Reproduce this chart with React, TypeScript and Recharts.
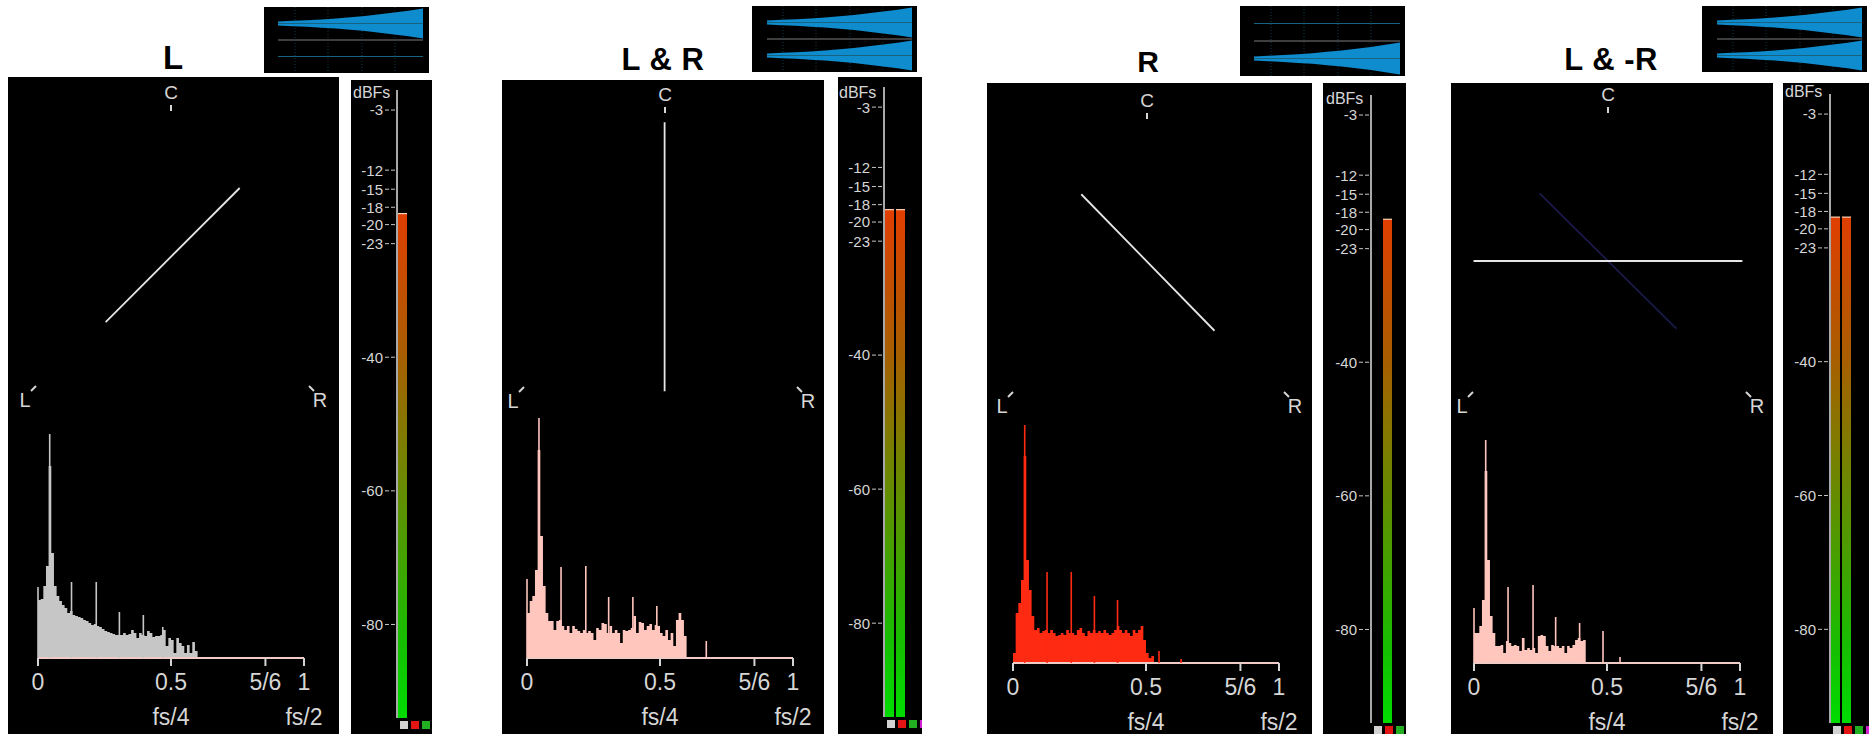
import React from "react";
import {
  ComposedChart,
  AreaChart,
  BarChart,
  Area,
  Bar,
  Line,
  Scatter,
  XAxis,
  YAxis,
  CartesianGrid,
  ReferenceLine,
} from "recharts";

const FONT = '"Liberation Sans", Arial, Helvetica, sans-serif';
const LABEL = "#d6d6d6";

// spectrum level above floor, one value per 0.01 of fs/2 starting at 0
const spectrumL = [58, 59, 72, 92, 192, 105, 72, 62, 57, 53, 50, 45, 47, 43, 42, 41, 40, 38, 37, 35, 33, 34, 32, 31, 29, 27, 26, 25, 24, 23, 23, 23, 25, 23, 24, 28, 25, 20, 25, 23, 22, 27, 25, 21, 22, 22, 23, 28, 12, 20, 18, 5, 20, 15, 12, 5, 13, 5, 16, 7, 0];
const spectrumLR = [45, 57, 62, 88, 208, 122, 72, 45, 37, 37, 28, 37, 38, 32, 28, 32, 25, 32, 29, 27, 25, 28, 25, 27, 25, 18, 30, 28, 35, 34, 25, 32, 25, 28, 25, 15, 28, 27, 28, 30, 42, 25, 36, 35, 28, 32, 34, 28, 33, 32, 25, 22, 28, 18, 25, 12, 38, 45, 38, 22, 0];
const spectrumR = [10, 50, 60, 83, 207, 103, 73, 47, 33, 35, 30, 32, 33, 30, 33, 30, 27, 28, 30, 28, 33, 30, 30, 28, 33, 35, 30, 27, 32, 30, 33, 30, 32, 30, 33, 30, 28, 30, 33, 37, 33, 30, 33, 30, 27, 33, 30, 33, 37, 23, 10, 5, 7, 0];
const spectrumLmR = [30, 30, 37, 63, 192, 103, 47, 30, 17, 17, 18, 10, 22, 20, 17, 18, 17, 12, 25, 13, 15, 13, 15, 10, 27, 28, 27, 17, 12, 18, 17, 17, 15, 17, 10, 17, 15, 18, 23, 25, 22, 23, 0];

// narrow spectral lines
const spikeFreqL = [0.0, 0.044, 0.126, 0.219, 0.306, 0.396, 0.469];
const spikeLevelL = [71, 224, 76, 76, 46, 43, 31];
const spikeFreqLR = [0.0, 0.045, 0.128, 0.221, 0.307, 0.398, 0.488, 0.674];
const spikeLevelLR = [79, 240, 91, 92, 61, 61, 52, 17];
const spikeFreqR = [0.044, 0.128, 0.219, 0.306, 0.393, 0.549, 0.632];
const spikeLevelR = [238, 91, 91, 67, 63, 12, 4];
const spikeFreqLmR = [0.0, 0.044, 0.128, 0.222, 0.307, 0.397, 0.485, 0.549];
const spikeLevelLmR = [55, 223, 76, 78, 46, 40, 32, 6];

const freqTicks = [0, 0.5, 0.855, 1];
const freqLabels = ["0", "0.5", "5/6", "1"];
const bandLabels = ["", "fs/4", "", "fs/2"];

// goniometer traces (x: L-R side, y: toward C)
const goniXL = [-0.41, 0.4];
const goniYL = [-0.39, 0.42];
const goniXLR = [0.01, 0.01];
const goniYLR = [0.83, -0.84];
const goniXR = [-0.42, 0.4];
const goniYR = [0.42, -0.42];
const goniXLmR = [-0.86, 0.81];
const goniYLmR = [0.0, 0.0];
const ghostXLmR = [-0.45, 0.4];
const ghostYLmR = [0.42, -0.42];

// waveform envelope of the test tone
const envTime = [0, 0.1, 0.2, 0.3, 0.4, 0.5, 0.6, 0.7, 0.8, 0.9, 1];
const envAmp = [0.12, 0.16, 0.2, 0.25, 0.3, 0.38, 0.46, 0.56, 0.66, 0.78, 0.91];

// level meter
const meterTicks = [-3, -12, -15, -18, -20, -23, -40, -60, -80];
const meterTickNudge = [0, 0, -1, -3, 1, 0, 0, 0, 0];
const meterFloor = -94;
const meterChannels = ["L", "R"];
const levelL = [-18.5, null];
const levelLR = [-18.3, -18.3];
const levelR = [null, -18.6];
const levelLmR = [-18.4, -18.4];

const SPEC_H = 240;

const panels = [
  {
    id: "L", title: "L", titleSize: 33, titleSpacing: 0, titleX: 173, titleBase: 69,
    thumb: { x: 264, y: 7, w: 165, h: 66, padL: 14, padR: 6 }, channels: [true, false],
    box: { x: 8, y: 77, w: 331 }, cX: 163, cTop: 8, lX: 17, rX: 312, lrBase: 330,
    gonioTop: 14.5, traceX: goniXL, traceY: goniYL, ghostX: null, ghostY: null,
    spectrum: spectrumL, spikeF: spikeFreqL, spikeH: spikeLevelL, color: "#c6c6c6", specLeft: 30, baseline: 581,
    meter: { x: 351, y: 80, w: 81, axisW: 46, top: 10, bottom: 16, labelX: 2, labelBase: 18 }, levels: levelL,
  },
  {
    id: "LR", title: "L & R", titleSize: 31, titleSpacing: 0.5, titleX: 663, titleBase: 70,
    thumb: { x: 752, y: 6, w: 165, h: 66, padL: 15, padR: 5 }, channels: [true, true],
    box: { x: 502, y: 80, w: 322 }, cX: 163, cTop: 7, lX: 11, rX: 306, lrBase: 328,
    gonioTop: 15, traceX: goniXLR, traceY: goniYLR, ghostX: null, ghostY: null,
    spectrum: spectrumLR, spikeF: spikeFreqLR, spikeH: spikeLevelLR, color: "#ffc6be", specLeft: 25, baseline: 578,
    meter: { x: 838, y: 77, w: 84, axisW: 46, top: 10, bottom: 17, labelX: 1, labelBase: 21 }, levels: levelLR,
  },
  {
    id: "R", title: "R", titleSize: 30, titleSpacing: 0, titleX: 1148, titleBase: 72,
    thumb: { x: 1240, y: 6, w: 165, h: 70, padL: 14, padR: 5 }, channels: [false, true],
    box: { x: 987, y: 83, w: 325 }, cX: 160, cTop: 10, lX: 15, rX: 308, lrBase: 330,
    gonioTop: 16.5, traceX: goniXR, traceY: goniYR, ghostX: null, ghostY: null,
    spectrum: spectrumR, spikeF: spikeFreqR, spikeH: spikeLevelR, color: "#ff2a12", specLeft: 26, baseline: 580,
    meter: { x: 1323, y: 83, w: 83, axisW: 48, top: 12, bottom: 11, labelX: 3, labelBase: 21 }, levels: levelR,
  },
  {
    id: "LmR", title: "L & -R", titleSize: 31, titleSpacing: 0.5, titleX: 1611, titleBase: 70,
    thumb: { x: 1702, y: 6, w: 165, h: 66, padL: 15, padR: 5 }, channels: [true, true],
    box: { x: 1451, y: 83, w: 322 }, cX: 157, cTop: 4, lX: 11, rX: 306, lrBase: 330,
    gonioTop: 17, traceX: goniXLmR, traceY: goniYLmR, ghostX: ghostXLmR, ghostY: ghostYLmR,
    spectrum: spectrumLmR, spikeF: spikeFreqLmR, spikeH: spikeLevelLmR, color: "#ffc6be", specLeft: 23, baseline: 580,
    meter: { x: 1783, y: 83, w: 86, axisW: 47, top: 11, bottom: 11, labelX: 2, labelBase: 14 }, levels: levelLmR,
  },
];

const toPoints = (xs: number[], ys: number[]) => xs.map((x, i) => ({ x, y: ys[i] }));

function FreqTick(props: any) {
  const { x, y, payload } = props;
  const i = freqTicks.indexOf(payload.value);
  return (
    <g>
      <text x={x} y={y + 24} textAnchor="middle" fontSize={23} fill={LABEL} fontFamily={FONT}>
        {freqLabels[i]}
      </text>
      {bandLabels[i] ? (
        <text x={x} y={y + 59} textAnchor="middle" fontSize={23} fill={LABEL} fontFamily={FONT}>
          {bandLabels[i]}
        </text>
      ) : null}
    </g>
  );
}

// dashed tick plus label, nudged a little where the scale packs them tight
function MeterTick(props: any) {
  const { x, y, payload } = props;
  const i = meterTicks.indexOf(payload.value);
  const ty = y + (meterTickNudge[i] || 0);
  return (
    <g>
      <line x1={x - 12} x2={x} y1={ty} y2={ty} stroke="#c8c8c8" strokeDasharray="4 2" />
      <text x={x - 14} y={ty} dy="0.36em" textAnchor="end" fontSize={15} fill={LABEL} fontFamily={FONT}>
        {payload.value}
      </text>
    </g>
  );
}

function Thumb({ p }: { p: any }) {
  const t = p.thumb;
  const data = envTime.map((time, i) => {
    const a = envAmp[i];
    return { t: time, upper: [1 - a, 1 + a], lower: [-1 - a, -1 + a] };
  });
  return (
    <div style={{ position: "absolute", left: t.x, top: t.y, width: t.w, height: t.h, background: "#000" }}>
      <AreaChart width={t.w} height={t.h} data={data} margin={{ top: 0, bottom: 0, left: t.padL, right: t.padR }}>
        <CartesianGrid horizontal={false} verticalPoints={[31, 64, 98, 131]} stroke="#0d3646" strokeDasharray="1 2" />
        <XAxis dataKey="t" type="number" domain={[0, 1]} hide />
        <YAxis type="number" domain={[-2, 2]} hide />
        <ReferenceLine y={1} stroke="#17627f" strokeWidth={1} />
        <ReferenceLine y={-1} stroke="#17627f" strokeWidth={1} />
        <ReferenceLine y={0} stroke="#3e3e3e" strokeWidth={2} />
        {p.channels[0] && (
          <Area dataKey="upper" type="linear" stroke="none" fill="#0f8ccd" fillOpacity={1} isAnimationActive={false} />
        )}
        {p.channels[1] && (
          <Area dataKey="lower" type="linear" stroke="none" fill="#0f8ccd" fillOpacity={1} isAnimationActive={false} />
        )}
      </AreaChart>
    </div>
  );
}

function Gonio({ p }: { p: any }) {
  const b = p.box;
  const h = 734 - b.y;
  const trace = toPoints(p.traceX, p.traceY);
  const ghost = p.ghostX ? toPoints(p.ghostX, p.ghostY) : null;
  const bins = p.spectrum.map((v: number, i: number) => ({ f: i / 100, v }));
  const spikes = p.spikeF.map((f: number, i: number) => ({ f, v: p.spikeH[i] }));
  const color = p.color;
  const spikeShape = (s: any) => (
    <line x1={s.cx} x2={s.cx} y1={s.cy} y2={SPEC_H} stroke={color} strokeWidth={1.6} />
  );
  return (
    <div style={{ position: "absolute", left: b.x, top: b.y, width: b.w, height: h, background: "#000", overflow: "hidden" }}>
      <div style={{ position: "absolute", left: 0, top: p.gonioTop }}>
        <ComposedChart width={b.w} height={b.w} margin={{ top: 0, bottom: 0, left: 0, right: 0 }}>
          <XAxis dataKey="x" type="number" domain={[-1, 1]} hide />
          <YAxis dataKey="y" type="number" domain={[-1, 1]} hide />
          {ghost && (
            <Line data={ghost} dataKey="y" stroke="#1b1b4e" strokeWidth={1.6} dot={false} activeDot={false} isAnimationActive={false} />
          )}
          <Line data={trace} dataKey="y" stroke="#e6e6e6" strokeWidth={1.8} dot={false} activeDot={false} isAnimationActive={false} />
        </ComposedChart>
      </div>
      <div style={{ position: "absolute", left: 0, top: p.baseline - SPEC_H }}>
        <ComposedChart
          width={b.w}
          height={SPEC_H + 80}
          margin={{ top: 0, bottom: 0, left: p.specLeft, right: b.w - p.specLeft - 266 }}
        >
          <XAxis
            dataKey="f"
            type="number"
            domain={[0, 1]}
            ticks={freqTicks}
            interval={0}
            height={80}
            tickSize={8}
            tickMargin={0}
            axisLine={{ stroke: "#f0cac4", strokeWidth: 2 }}
            tickLine={{ stroke: "#d4d4d4", strokeWidth: 2 }}
            tick={<FreqTick />}
          />
          <YAxis dataKey="v" type="number" domain={[0, SPEC_H]} hide allowDataOverflow />
          <Area data={bins} dataKey="v" type="stepAfter" stroke="none" fill={color} fillOpacity={1} isAnimationActive={false} />
          <Scatter data={spikes} dataKey="v" shape={spikeShape} isAnimationActive={false} />
        </ComposedChart>
      </div>
    </div>
  );
}

function Meter({ p }: { p: any }) {
  const m = p.meter;
  const h = 734 - m.y;
  const gid = "meterGrad" + p.id;
  const data = meterChannels.map((ch, i) => ({
    ch,
    range: p.levels[i] == null ? null : [meterFloor, p.levels[i]],
  }));
  const barShape = (s: any) => {
    if (!s.height) return <g />;
    return (
      <g>
        <rect x={s.x} y={s.y} width={s.width} height={s.height} fill={`url(#${gid})`} />
        <line x1={s.x} x2={s.x + s.width} y1={s.y} y2={s.y} stroke="#ffd2b4" strokeWidth={1.2} />
      </g>
    );
  };
  const squares = ["#d2d2d2", "#e21414", "#22b022", "#d020d0"];
  return (
    <div style={{ position: "absolute", left: m.x, top: m.y, width: m.w, height: h, background: "#000", overflow: "hidden" }}>
      <BarChart
        width={m.w}
        height={h}
        data={data}
        barCategoryGap={0}
        margin={{ top: m.top, bottom: m.bottom, left: 0, right: m.w - m.axisW - 22 }}
      >
        <defs>
          <linearGradient id={gid} x1="0" y1="0" x2="0" y2="1">
            <stop offset="0%" stopColor="#e03e00" />
            <stop offset="28%" stopColor="#a85e00" />
            <stop offset="45%" stopColor="#7e7c00" />
            <stop offset="65%" stopColor="#4c9c00" />
            <stop offset="85%" stopColor="#16be00" />
            <stop offset="100%" stopColor="#00dc00" />
          </linearGradient>
        </defs>
        <XAxis dataKey="ch" hide />
        <YAxis
          type="number"
          width={m.axisW}
          domain={[meterFloor, 0]}
          ticks={meterTicks}
          interval={0}
          allowDataOverflow
          tickSize={0}
          tickMargin={0}
          tickLine={false}
          axisLine={{ stroke: "#a8a8a8", strokeWidth: 2 }}
          tick={<MeterTick />}
        />
        <Bar dataKey="range" barSize={9} shape={barShape} isAnimationActive={false} />
      </BarChart>
      {squares.map((c, i) => (
        <div
          key={c}
          style={{
            position: "absolute",
            left: m.axisW + 3 + i * 11,
            top: h - m.bottom + 3,
            width: 8,
            height: 8,
            background: c,
          }}
        />
      ))}
    </div>
  );
}

function Labels() {
  return (
    <svg width={1869} height={734} style={{ position: "absolute", left: 0, top: 0, pointerEvents: "none" }}>
      {panels.map((p) => {
        const b = p.box;
        const cx = b.x + p.cX;
        const cy = b.y + p.cTop;
        const lx = b.x + p.lX;
        const rx = b.x + p.rX;
        const base = b.y + p.lrBase;
        return (
          <g key={p.id} fontFamily={FONT}>
            <text
              x={p.titleX}
              y={p.titleBase}
              textAnchor="middle"
              fontSize={p.titleSize}
              fontWeight="bold"
              letterSpacing={p.titleSpacing}
              fill="#000"
            >
              {p.title}
            </text>
            <text x={cx} y={cy + 14} textAnchor="middle" fontSize={19} fill={LABEL}>
              C
            </text>
            <line x1={cx} x2={cx} y1={cy + 20} y2={cy + 26} stroke={LABEL} strokeWidth={2} />
            <text x={lx} y={base} textAnchor="middle" fontSize={20} fill={LABEL}>
              L
            </text>
            <line x1={lx + 6} y1={base - 16} x2={lx + 11} y2={base - 21} stroke={LABEL} strokeWidth={2} />
            <text x={rx} y={base} textAnchor="middle" fontSize={20} fill={LABEL}>
              R
            </text>
            <line x1={rx - 11} y1={base - 21} x2={rx - 6} y2={base - 16} stroke={LABEL} strokeWidth={2} />
            <text x={p.meter.x + p.meter.labelX} y={p.meter.y + p.meter.labelBase} fontSize={16} fill={LABEL}>
              dBFs
            </text>
          </g>
        );
      })}
    </svg>
  );
}

export default function App() {
  return (
    <div
      style={{
        position: "absolute",
        left: 0,
        top: 0,
        width: 1869,
        height: 734,
        background: "#fff",
        overflow: "hidden",
        fontFamily: FONT,
      }}
    >
      {panels.map((p) => (
        <React.Fragment key={p.id}>
          <Thumb p={p} />
          <Gonio p={p} />
          <Meter p={p} />
        </React.Fragment>
      ))}
      <Labels />
    </div>
  );
}
